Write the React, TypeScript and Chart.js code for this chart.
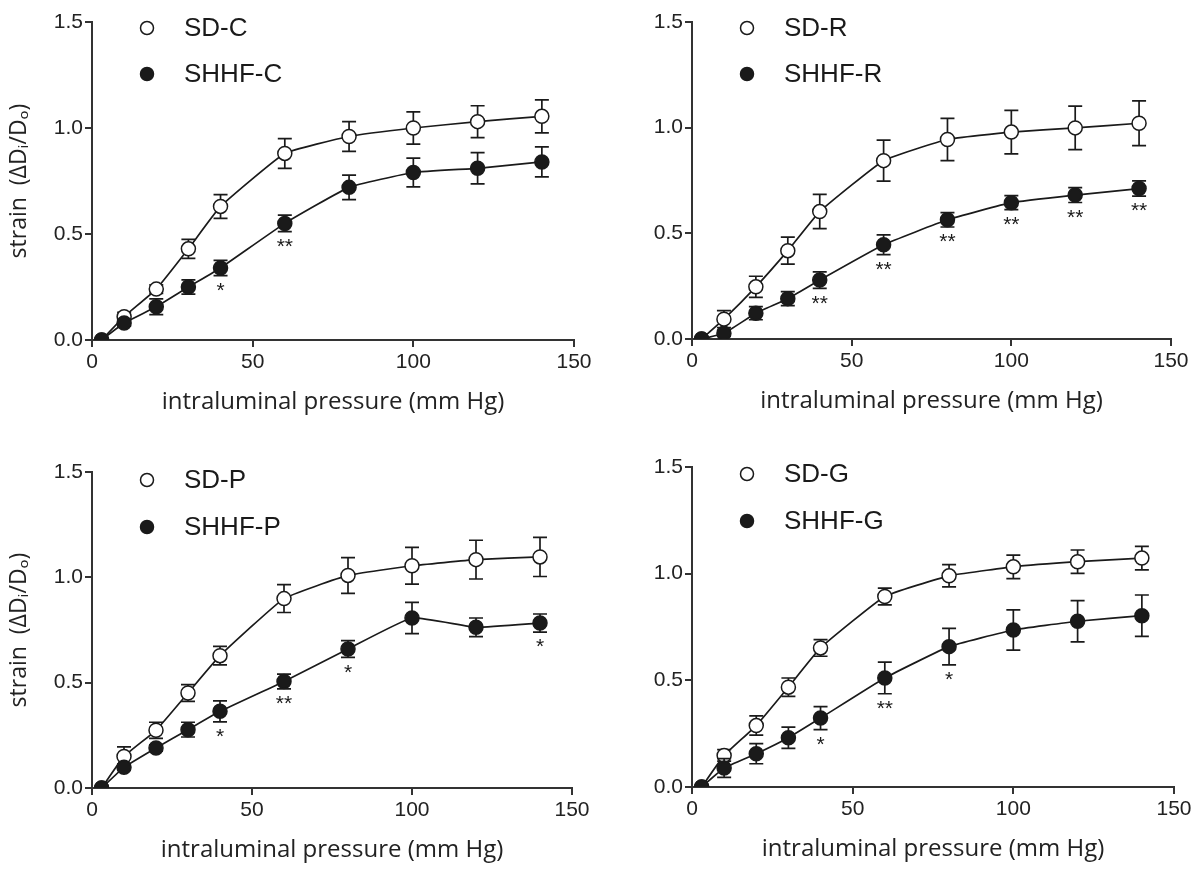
import React, { useEffect, useRef } from 'react';
import { Chart, registerables } from 'chart.js';

Chart.register(...registerables);

// ---------------- data ----------------
const pressure = [3, 10, 20, 30, 40, 60, 80, 100, 120, 140];
const xTicks = [0, 50, 100, 150];
const yTicks = [0, 0.5, 1.0, 1.5];

const xTitle = 'intraluminal pressure (mm Hg)';
const yTitle = 'strain  (\u0394D\u1d62/D\u2092)';

const sdC = [0, 0.11, 0.24, 0.43, 0.63, 0.88, 0.96, 1.0, 1.03, 1.055];
const sdCErr = [0, 0.02, 0.02, 0.045, 0.056, 0.07, 0.07, 0.076, 0.075, 0.078];
const shhfC = [0, 0.08, 0.157, 0.25, 0.34, 0.55, 0.72, 0.79, 0.81, 0.84];
const shhfCErr = [0, 0.015, 0.037, 0.034, 0.036, 0.039, 0.058, 0.068, 0.074, 0.071];
const shhfCStars = ['', '', '', '', '*', '**', '', '', '', ''];

const sdR = [0, 0.094, 0.247, 0.418, 0.603, 0.844, 0.944, 0.979, 0.999, 1.021];
const sdRErr = [0, 0.04, 0.05, 0.064, 0.081, 0.097, 0.1, 0.103, 0.103, 0.106];
const shhfR = [0, 0.027, 0.122, 0.191, 0.279, 0.446, 0.564, 0.645, 0.681, 0.712];
const shhfRErr = [0, 0.015, 0.031, 0.033, 0.039, 0.047, 0.034, 0.033, 0.035, 0.036];
const shhfRStars = ['', '', '', '', '**', '**', '**', '**', '**', '**'];

const sdP = [0, 0.15, 0.274, 0.451, 0.628, 0.899, 1.009, 1.055, 1.084, 1.097];
const sdPErr = [0, 0.045, 0.038, 0.04, 0.044, 0.066, 0.085, 0.087, 0.092, 0.093];
const shhfP = [0, 0.098, 0.19, 0.277, 0.364, 0.506, 0.66, 0.807, 0.763, 0.783];
const shhfPErr = [0, 0.015, 0.015, 0.035, 0.05, 0.035, 0.04, 0.074, 0.044, 0.043];
const shhfPStars = ['', '', '', '', '*', '**', '*', '', '', '*'];

const sdG = [0, 0.148, 0.288, 0.468, 0.652, 0.893, 0.99, 1.032, 1.056, 1.073];
const sdGErr = [0, 0.027, 0.045, 0.043, 0.039, 0.039, 0.052, 0.055, 0.055, 0.055];
const shhfG = [0, 0.089, 0.156, 0.231, 0.323, 0.511, 0.658, 0.736, 0.777, 0.803];
const shhfGErr = [0, 0.044, 0.047, 0.05, 0.054, 0.074, 0.086, 0.094, 0.097, 0.097];
const shhfGStars = ['', '', '', '', '*', '**', '*', '', '', ''];

// ---------------- layout ----------------
type Panel = {
  left: number; top: number; width: number; height: number;
  area: { left: number; right: number; top: number; bottom: number };
  sdLabel: string; shhfLabel: string;
  sd: number[]; sdErr: number[]; shhf: number[]; shhfErr: number[]; stars: string[];
  showYTitle: boolean; legendTop: number; legendGap: number;
};

const panels: Panel[] = [
  { left: 0, top: 0, width: 600, height: 434, area: { left: 92, right: 574, top: 22, bottom: 340 },
    sdLabel: 'SD-C', shhfLabel: 'SHHF-C', sd: sdC, sdErr: sdCErr, shhf: shhfC, shhfErr: shhfCErr, stars: shhfCStars,
    showYTitle: true, legendTop: 6, legendGap: 46 },
  { left: 600, top: 0, width: 600, height: 434, area: { left: 92, right: 571, top: 22, bottom: 339 },
    sdLabel: 'SD-R', shhfLabel: 'SHHF-R', sd: sdR, sdErr: sdRErr, shhf: shhfR, shhfErr: shhfRErr, stars: shhfRStars,
    showYTitle: false, legendTop: 6, legendGap: 46 },
  { left: 0, top: 434, width: 600, height: 435, area: { left: 92, right: 572, top: 38, bottom: 354 },
    sdLabel: 'SD-P', shhfLabel: 'SHHF-P', sd: sdP, sdErr: sdPErr, shhf: shhfP, shhfErr: shhfPErr, stars: shhfPStars,
    showYTitle: true, legendTop: 8, legendGap: 47 },
  { left: 600, top: 434, width: 600, height: 435, area: { left: 92, right: 574, top: 33, bottom: 353 },
    sdLabel: 'SD-G', shhfLabel: 'SHHF-G', sd: sdG, sdErr: sdGErr, shhf: shhfG, shhfErr: shhfGErr, stars: shhfGStars,
    showYTitle: false, legendTop: 7, legendGap: 47 },
];

const INK = '#1a1a1a';
const AXIS = '#333333';
const TICK_FONT = "'Liberation Sans', Arial, sans-serif";
const TITLE_FONT = "'Open Sans', 'Noto Sans', sans-serif";

const errorBarPlugin = {
  id: 'errorBars',
  beforeDatasetDraw(chart: any, args: any) {
    const ds: any = chart.data.datasets[args.index];
    const errs: number[] = ds.errors || [];
    const ys = chart.scales.y;
    const ctx = chart.ctx;
    ctx.save();
    ctx.strokeStyle = INK;
    ctx.lineWidth = 1.7;
    args.meta.data.forEach((pt: any, i: number) => {
      const e = errs[i];
      if (!e) return;
      const v = ds.data[i].y;
      const yT = ys.getPixelForValue(v + e);
      const yB = ys.getPixelForValue(v - e);
      const cw = 7;
      ctx.beginPath();
      ctx.moveTo(pt.x, yT); ctx.lineTo(pt.x, yB);
      ctx.moveTo(pt.x - cw, yT); ctx.lineTo(pt.x + cw, yT);
      ctx.moveTo(pt.x - cw, yB); ctx.lineTo(pt.x + cw, yB);
      ctx.stroke();
    });
    ctx.restore();
  },
};

const starsPlugin = {
  id: 'stars',
  afterDatasetsDraw(chart: any) {
    const ctx = chart.ctx;
    const ys = chart.scales.y;
    chart.data.datasets.forEach((ds: any, di: number) => {
      if (!ds.stars) return;
      const meta = chart.getDatasetMeta(di);
      meta.data.forEach((pt: any, i: number) => {
        const s = ds.stars[i];
        if (!s) return;
        const v = ds.data[i].y - (ds.errors[i] || 0);
        const yb = ys.getPixelForValue(v);
        ctx.save();
        ctx.fillStyle = INK;
        ctx.font = `21px ${TICK_FONT}`;
        ctx.textAlign = 'center';
        ctx.textBaseline = 'top';
        ctx.fillText(s, pt.x, yb + 5);
        ctx.restore();
      });
    });
  },
};

const legendPlugin = {
  id: 'insideLegend',
  afterDraw(chart: any) {
    const opts: any = chart.options.plugins.insideLegend;
    const ctx = chart.ctx;
    const area = chart.chartArea;
    const items = chart.data.datasets
      .map((d: any) => d)
      .sort((a: any, b: any) => a.legendOrder - b.legendOrder);
    items.forEach((d: any, i: number) => {
      const cx = area.left + 55;
      const cy = area.top + opts.top + i * opts.gap;
      ctx.save();
      ctx.beginPath();
      ctx.arc(cx, cy, 6.5, 0, Math.PI * 2);
      ctx.fillStyle = d.pointBackgroundColor;
      ctx.fill();
      ctx.lineWidth = 1.5;
      ctx.strokeStyle = INK;
      ctx.stroke();
      ctx.fillStyle = INK;
      ctx.font = `26px ${TICK_FONT}`;
      ctx.textAlign = 'left';
      ctx.textBaseline = 'middle';
      ctx.fillText(d.label, cx + 37, cy + 1);
      ctx.restore();
    });
  },
};

function buildConfig(p: Panel): any {
  const xHeight = p.height - p.area.bottom;
  const xTitleCenter = 62;
  const xTitlePad = xHeight - xTitleCenter - 14.4;
  const mk = (vals: number[]) => pressure.map((x, i) => ({ x, y: vals[i] }));
  return {
    type: 'line',
    data: {
      datasets: [
        {
          label: p.shhfLabel, data: mk(p.shhf), errors: p.shhfErr, stars: p.stars, legendOrder: 1,
          borderColor: INK, backgroundColor: INK, borderWidth: 1.7, tension: 0.12,
          pointRadius: 7, pointHoverRadius: 7, pointBackgroundColor: INK, pointBorderColor: INK, pointBorderWidth: 1.5,
        },
        {
          label: p.sdLabel, data: mk(p.sd), errors: p.sdErr, legendOrder: 0,
          borderColor: INK, backgroundColor: '#ffffff', borderWidth: 1.7, tension: 0.12,
          pointRadius: 7, pointHoverRadius: 7, pointBackgroundColor: '#ffffff', pointBorderColor: INK, pointBorderWidth: 1.5,
        },
      ],
    },
    options: {
      animation: false,
      responsive: false,
      events: [],
      layout: { padding: { left: 0, top: p.area.top, right: p.width - p.area.right, bottom: 0 } },
      plugins: {
        legend: { display: false },
        tooltip: { enabled: false },
        insideLegend: { top: p.legendTop, gap: p.legendGap },
      },
      scales: {
        x: {
          type: 'linear', min: 0, max: 150,
          afterBuildTicks: (s: any) => { s.ticks = xTicks.map((v) => ({ value: v })); },
          afterFit: (s: any) => { s.height = xHeight; },
          border: { display: true, color: AXIS, width: 2 },
          grid: { display: true, drawOnChartArea: false, drawTicks: true, tickLength: 7, color: AXIS, lineWidth: 2 },
          ticks: { color: '#222', font: { family: TICK_FONT, size: 21 }, padding: 3, maxRotation: 0, callback: (v: any) => String(v) },
          title: { display: true, text: xTitle, color: '#222', font: { family: TITLE_FONT, size: 24, lineHeight: 1.2 }, padding: { top: 0, bottom: xTitlePad } },
        },
        y: {
          type: 'linear', min: 0, max: 1.5,
          afterBuildTicks: (s: any) => { s.ticks = yTicks.map((v) => ({ value: v })); },
          afterFit: (s: any) => { s.width = p.area.left; },
          border: { display: true, color: AXIS, width: 2 },
          grid: { display: true, drawOnChartArea: false, drawTicks: true, tickLength: 7, color: AXIS, lineWidth: 2 },
          ticks: { color: '#222', font: { family: TICK_FONT, size: 21 }, padding: 2, callback: (v: any) => Number(v).toFixed(1) },
          title: { display: p.showYTitle, text: yTitle, color: '#222', font: { family: TITLE_FONT, size: 23, lineHeight: 1.2 }, padding: { top: 6, bottom: 0 } },
        },
      },
    },
    plugins: [errorBarPlugin, starsPlugin, legendPlugin],
  };
}

function PanelChart({ p }: { p: Panel }) {
  const ref = useRef<HTMLCanvasElement | null>(null);
  useEffect(() => {
    if (!ref.current) return;
    const chart = new Chart(ref.current, buildConfig(p));
    return () => chart.destroy();
  }, [p]);
  return (
    <canvas
      ref={ref}
      width={p.width}
      height={p.height}
      style={{ position: 'absolute', left: p.left, top: p.top, width: p.width, height: p.height }}
    />
  );
}

export default function App() {
  return (
    <div style={{ position: 'absolute', left: 0, top: 0, width: 1200, height: 869, background: '#ffffff', overflow: 'hidden' }}>
      {panels.map((p, i) => (
        <PanelChart key={i} p={p} />
      ))}
    </div>
  );
}
